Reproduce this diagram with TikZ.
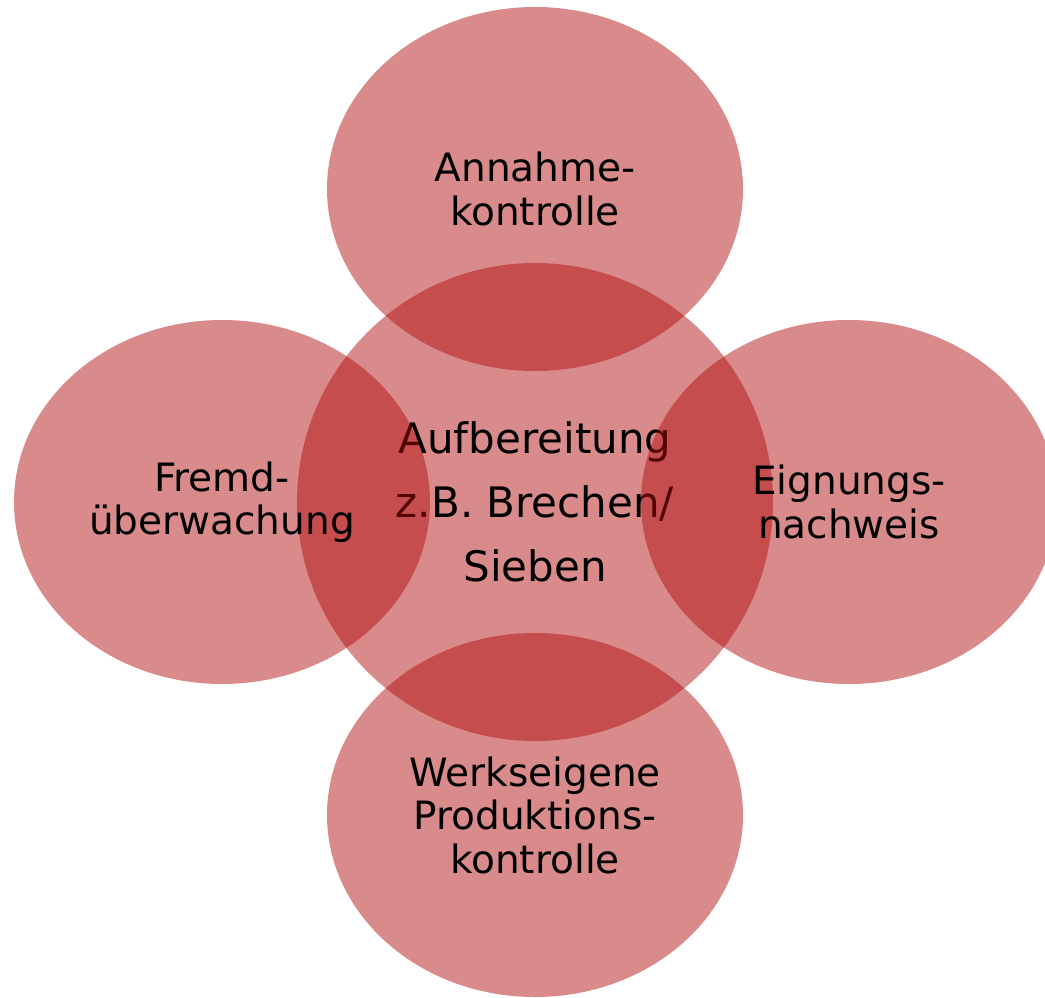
\documentclass[tikz,border=0pt]{standalone}
\usepackage{fontspec}
\setmainfont{DejaVu Sans}
\usetikzlibrary{shapes.geometric}
\definecolor{bubblered}{RGB}{175,8,8}
\tikzset{
  bubble/.style={ellipse, draw=none, fill=bubblered, fill opacity=0.47, text opacity=1,
    text=black, inner sep=0pt, outer sep=0pt, minimum width=416pt, minimum height=364pt,
    align=center, font=\fontsize{39}{43.5}\selectfont},
  hub/.style={bubble, minimum width=476pt, minimum height=478pt,
    font=\fontsize{42}{64}\selectfont}
}
\begin{document}
\begin{tikzpicture}[x=1pt,y=-1pt]
\useasboundingbox (0,0) rectangle (1045,997);
\node[hub] (hub) at (535,502) {Aufbereitung\\z.B. Brechen/\\Sieben};
\node[bubble] (top) at (535,189) {Annahme-\\kontrolle};
\node[bubble] (left) at (222,502) {Fremd-\\überwachung};
\node[bubble] (right) at (849,502) {Eignungs-\\nachweis};
\node[bubble] (bottom) at (535,815) {Werkseigene\\Produktions-\\kontrolle};
\end{tikzpicture}
\end{document}
